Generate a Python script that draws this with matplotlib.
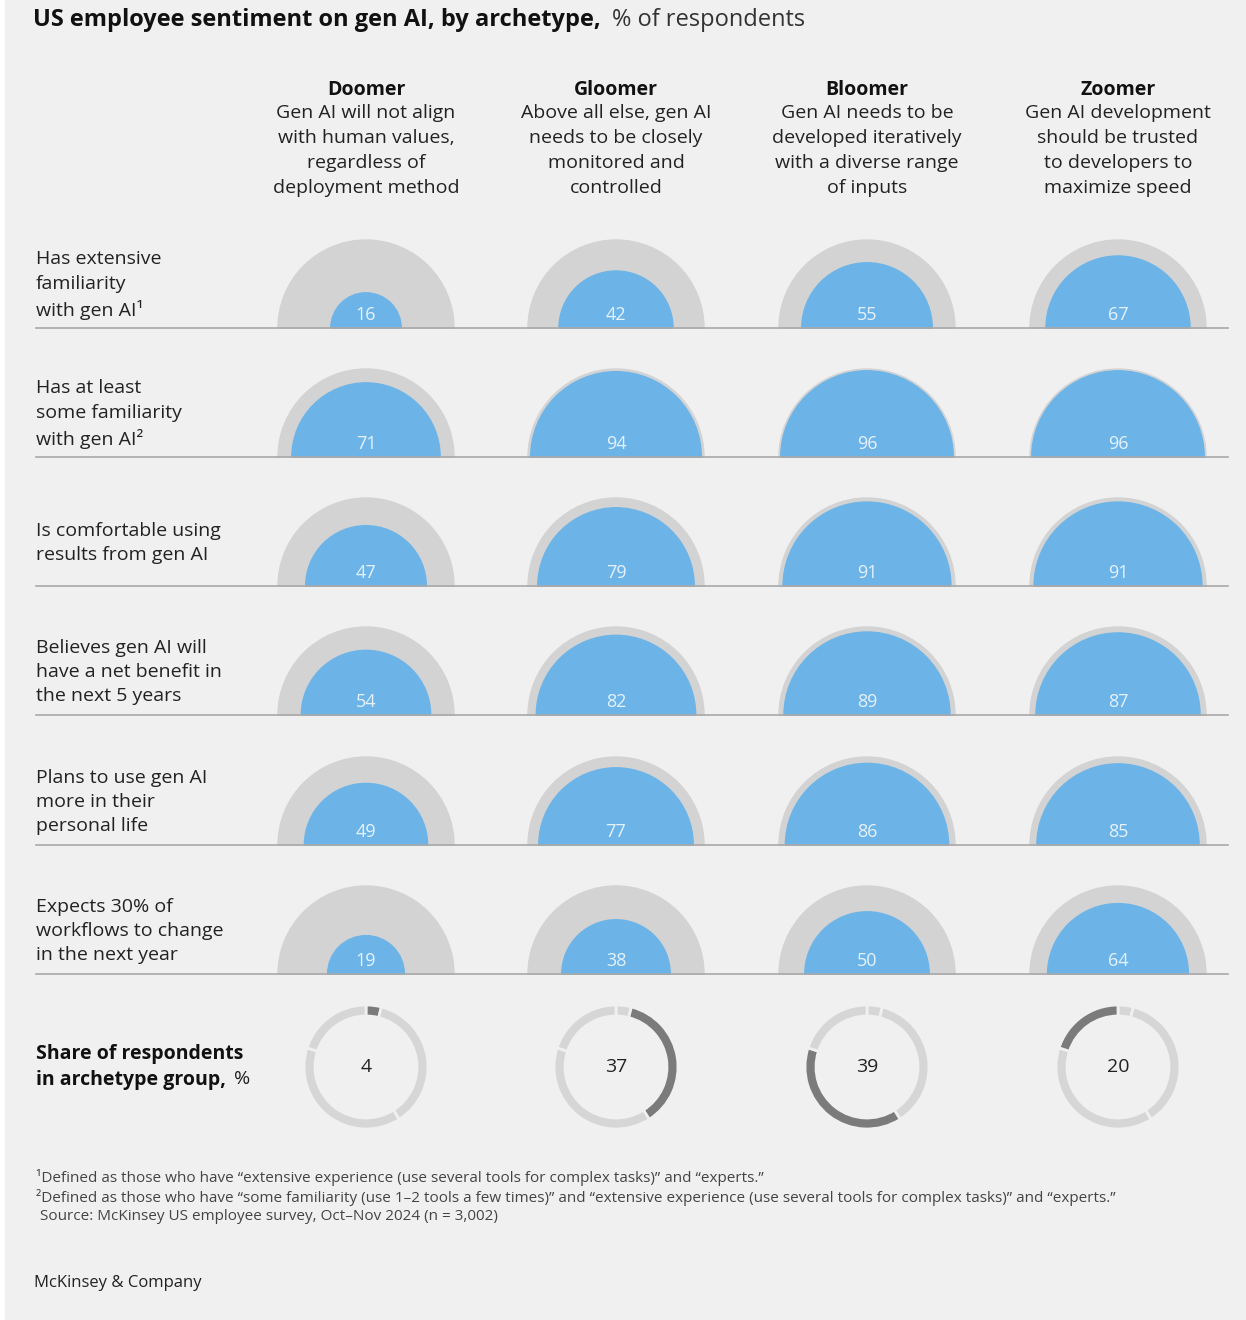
import numpy as np
import matplotlib
matplotlib.use('Agg')
import matplotlib.pyplot as plt
from matplotlib.patches import Wedge, Rectangle

plt.rcParams['font.family'] = ['Open Sans', 'DejaVu Sans']

# data
archetypes = ['Doomer', 'Gloomer', 'Bloomer', 'Zoomer']
descriptions = ['Gen AI will not align\nwith human values,\nregardless of\ndeployment method',
                'Above all else, gen AI\nneeds to be closely\nmonitored and\ncontrolled',
                'Gen AI needs to be\ndeveloped iteratively\nwith a diverse range\nof inputs',
                'Gen AI development\nshould be trusted\nto developers to\nmaximize speed']
row_labels = ['Has extensive\nfamiliarity\nwith gen AI\u00b9',
              'Has at least\nsome familiarity\nwith gen AI\u00b2',
              'Is comfortable using\nresults from gen AI',
              'Believes gen AI will\nhave a net benefit in\nthe next 5 years',
              'Plans to use gen AI\nmore in their\npersonal life',
              'Expects 30% of\nworkflows to change\nin the next year']
values = [[16, 42, 55, 67],
          [71, 94, 96, 96],
          [47, 79, 91, 91],
          [54, 82, 89, 87],
          [49, 77, 86, 85],
          [19, 38, 50, 64]]
shares = [4, 37, 39, 20]

W, H = 1246, 1320
fig = plt.figure(figsize=(W / 100, H / 100), dpi=100)
ax = fig.add_axes([0, 0, 1, 1])
ax.set_xlim(0, W)
ax.set_ylim(H, 0)
ax.axis('off')
fig.patch.set_facecolor('white')
ax.add_patch(Rectangle((5, 0), W - 5, H, color='#f0f0f0', zorder=0))

col_x = [366, 616, 867, 1118]
row_y = [328, 457, 586, 715, 845, 974]
R = 88
blue = '#6cb4e8'
grey = '#d3d3d3'

ax.text(33, 20, 'US employee sentiment on gen AI, by archetype,', fontsize=17,
        fontweight='bold', va='center', color='#111111')
ax.text(612, 20, '% of respondents', fontsize=17, va='center', color='#333333')

for x, name, desc in zip(col_x, archetypes, descriptions):
    ax.text(x, 90, name, fontsize=14, fontweight='bold', ha='center', va='center', color='#111111')
    ax.text(x, 104, desc, fontsize=14, ha='center', va='top', color='#222222', linespacing=1.5)

for y, lab, vals in zip(row_y, row_labels, values):
    ax.plot([36, 1228], [y, y], color='#a8a8a8', lw=1.2, zorder=3)
    ax.text(36, y - 43, lab, fontsize=14, va='center', color='#222222', linespacing=1.45)
    for x, v in zip(col_x, vals):
        ax.add_patch(Wedge((x, y), R, 180, 360, color=grey, zorder=1))
        r = R * np.sqrt(v / 100)
        ax.add_patch(Wedge((x, y), r, 180, 360, color=blue, zorder=2))
        ax.text(x, y - 13, str(v), fontsize=13, ha='center', va='center', color='#e6f2fb', zorder=4)

# share donuts (y axis inverted: angle 270 is the top, increasing goes clockwise)
dy = 1067
ax.text(36, 1067, 'Share of respondents\nin archetype group,', fontsize=14, fontweight='bold',
        va='center', color='#111111', linespacing=1.45)
ax.text(234, 1079, '%', fontsize=14, va='center', color='#222222')
bounds = np.concatenate([[0], np.cumsum(shares)])
for i, (x, s) in enumerate(zip(col_x, shares)):
    for j in range(len(shares)):
        a0 = 270 + bounds[j] * 3.6
        a1 = 270 + bounds[j + 1] * 3.6
        c = '#7b7b7b' if j == i else '#d6d6d6'
        ax.add_patch(Wedge((x, dy), 62, a0, a1, width=11, facecolor=c,
                           edgecolor='#f0f0f0', lw=2, zorder=2))
    ax.text(x, dy, str(s), fontsize=14, ha='center', va='center', color='#222222')

foot = ['\u00b9Defined as those who have \u201cextensive experience (use several tools for complex tasks)\u201d and \u201cexperts.\u201d',
        '\u00b2Defined as those who have \u201csome familiarity (use 1\u20132 tools a few times)\u201d and \u201cextensive experience (use several tools for complex tasks)\u201d and \u201cexperts.\u201d',
        ' Source: McKinsey US employee survey, Oct\u2013Nov 2024 (n = 3,002)']
for k, t in enumerate(foot):
    ax.text(36, 1178 + k * 19, t, fontsize=11, va='center', color='#444444')
ax.text(34, 1283, 'McKinsey & Company', fontsize=12, va='center', color='#222222')

fig.savefig('out.png', dpi=100, facecolor=fig.get_facecolor())
